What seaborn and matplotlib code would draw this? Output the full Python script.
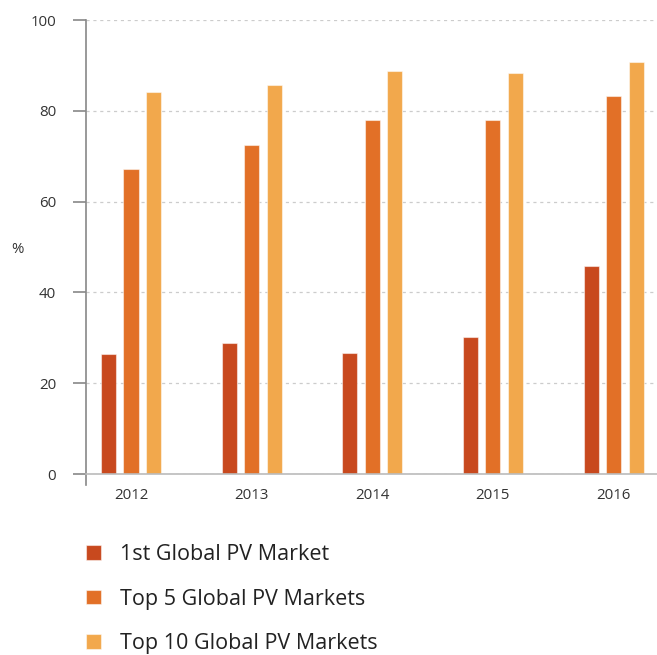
import pandas as pd
import matplotlib.pyplot as plt
import seaborn as sns

years = ["2012", "2013", "2014", "2015", "2016"]
first_market = [26.4, 28.9, 26.7, 30.2, 45.8]
top5_markets = [67.2, 72.5, 78.0, 78.0, 83.3]
top10_markets = [84.1, 85.7, 88.8, 88.3, 90.7]
series_names = ["1st Global PV Market", "Top 5 Global PV Markets", "Top 10 Global PV Markets"]
colors = ["#C8491E", "#E27027", "#F2A84C"]

df = pd.DataFrame({
    "year": years * 3,
    "value": first_market + top5_markets + top10_markets,
    "series": [s for s in series_names for _ in years],
})

sns.set_style("white")
plt.rcParams["font.family"] = ["Open Sans", "DejaVu Sans"]

fig = plt.figure(figsize=(6.57, 6.55), dpi=100)
ax = fig.add_axes([86 / 657, 1 - 474 / 655, 1 - 86 / 657, 454 / 655])

sns.barplot(data=df, x="year", y="value", hue="series", palette=colors, saturation=1,
            width=0.56, gap=0.33, ax=ax, edgecolor=(1, 1, 1, 0.5), linewidth=0.8)

ax.set_ylim(0, 100)
ax.set_xlim(-0.373, 4.36)
ax.set_yticks([0, 20, 40, 60, 80, 100])
ax.yaxis.grid(True, color="#cccccc", linestyle=(0, (2.5, 3)), linewidth=0.9)
ax.set_axisbelow(True)

for s in ["top", "right"]:
    ax.spines[s].set_visible(False)
ax.spines["left"].set_color("#888888")
ax.spines["left"].set_linewidth(1.2)
ax.spines["left"].set_bounds(-2.4, 100)
ax.spines["bottom"].set_color("#bbbbbb")
ax.spines["bottom"].set_linewidth(1.2)

ax.tick_params(axis="y", length=9.5, width=1.2, color="#888888", pad=12,
               labelsize=10.8, labelcolor="#333333", left=True)
ax.tick_params(axis="x", length=0, pad=10, labelsize=10.8, labelcolor="#333333")

ax.set_xlabel("")
ax.set_ylabel("%", rotation=0, fontsize=10.8, color="#333333", va="center")
ax.yaxis.set_label_coords(-0.12, 0.495)

# legend sits below the axes; last row kept just inside the figure edge
sns.move_legend(ax, "upper left", bbox_to_anchor=(0.0, -0.155), frameon=False,
                title=None, fontsize=15.5, labelspacing=1.08, handlelength=0.68,
                handleheight=0.68, handletextpad=0.88, borderaxespad=0, borderpad=0,
                labelcolor="#222222")

fig.savefig("out.png", dpi=100)
